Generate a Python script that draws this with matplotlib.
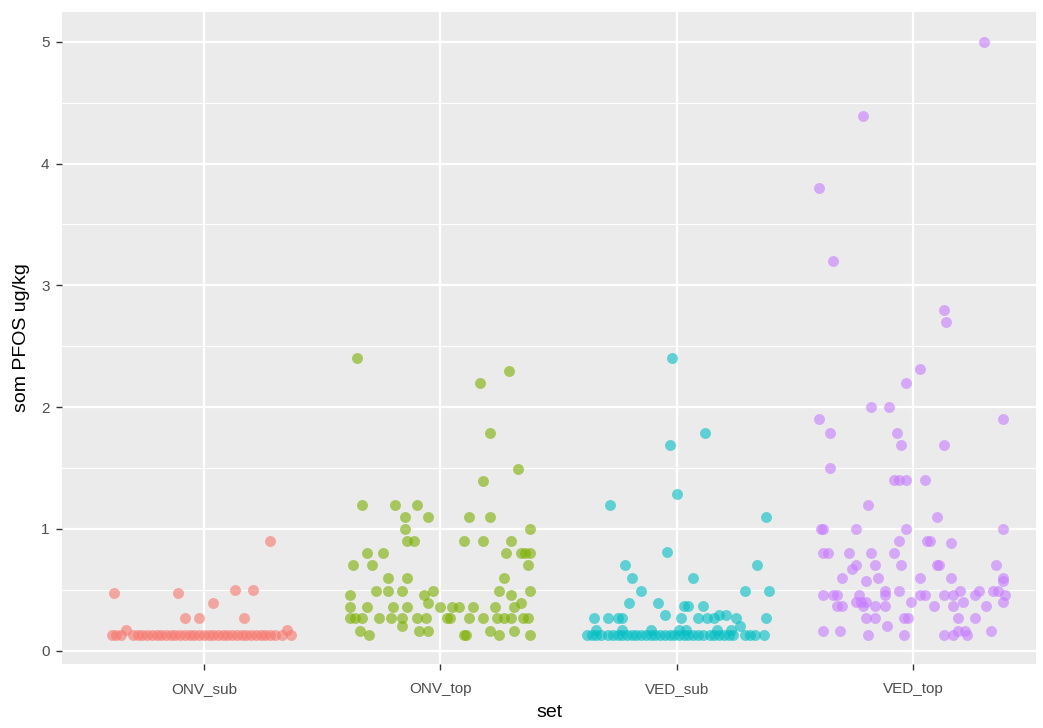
import numpy as np
import matplotlib
matplotlib.use("Agg")
from matplotlib import pyplot as plt

plt.rcParams['font.family'] = ['Liberation Sans', 'DejaVu Sans']

sets = ["ONV_sub", "ONV_top", "VED_sub", "VED_top"]
colors = ["#F8766D", "#7CAE00", "#00BFC4", "#C77CFF"]

# som PFOS per sample, with the horizontal jitter
onv_sub_val = [0.47, 0.47, 0.27, 0.27, 0.39, 0.50, 0.50, 0.27, 0.90, 0.17, 0.17,
               0.13, 0.13, 0.13, 0.13, 0.13, 0.13, 0.13, 0.13, 0.13, 0.13, 0.13, 0.13,
               0.13, 0.13, 0.13, 0.13, 0.13, 0.13, 0.13, 0.13, 0.13, 0.13, 0.13, 0.13,
               0.13, 0.13, 0.13, 0.13, 0.13, 0.13, 0.13, 0.13, 0.13, 0.13, 0.13, 0.13]
onv_sub_jit = [-0.38, -0.11, -0.08, -0.02, 0.04, 0.13, 0.21, 0.17, 0.28, -0.33, 0.35,
               -0.39, -0.37, -0.35, -0.30, -0.28, -0.26, -0.24, -0.22, -0.20, -0.18, -0.16,
               -0.14, -0.12, -0.10, -0.08, -0.06, -0.04, -0.02, 0.00, 0.02, 0.04, 0.06,
               0.08, 0.10, 0.12, 0.14, 0.16, 0.18, 0.20, 0.22, 0.24, 0.26, 0.28, 0.30,
               0.33, 0.37]

onv_top_val = [2.40, 2.30, 2.20, 1.79, 1.49, 1.39, 1.20, 1.20, 1.20, 1.10, 1.10, 1.10, 1.10,
               1.00, 1.00, 0.90, 0.90, 0.90, 0.90, 0.90, 0.80, 0.80, 0.80, 0.80, 0.80, 0.80,
               0.70, 0.70, 0.70, 0.60, 0.60, 0.60, 0.49, 0.49, 0.49, 0.49, 0.49, 0.49,
               0.46, 0.46, 0.46, 0.39, 0.39,
               0.36, 0.36, 0.36, 0.36, 0.36, 0.36, 0.36, 0.36, 0.36, 0.36,
               0.27, 0.27, 0.27, 0.27, 0.27, 0.27, 0.27, 0.27, 0.27, 0.27, 0.27, 0.27,
               0.27, 0.27, 0.27, 0.27, 0.27,
               0.20, 0.16, 0.16, 0.16, 0.16, 0.16, 0.13, 0.13, 0.13, 0.13, 0.13]
onv_top_jit = [-0.35, 0.29, 0.17, 0.21, 0.33, 0.18, -0.33, -0.19, -0.10, -0.15, -0.05, 0.12, 0.21,
               -0.15, 0.38, -0.14, -0.11, 0.10, 0.18, 0.30, -0.31, -0.24, 0.28, 0.34, 0.36, 0.38,
               -0.37, -0.29, 0.37, -0.22, -0.14, 0.27, -0.27, -0.22, -0.16, -0.03, 0.25, 0.38,
               -0.38, -0.07, 0.30, -0.05, 0.34,
               -0.38, -0.31, -0.20, -0.14, 0.00, 0.05, 0.08, 0.14, 0.23, 0.31,
               -0.38, -0.36, -0.33, -0.26, -0.21, -0.16, -0.10, -0.06, 0.03, 0.04, 0.12, 0.18,
               0.24, 0.27, 0.30, 0.35, 0.37,
               -0.16, -0.34, -0.09, -0.05, 0.21, 0.31, -0.30, 0.10, 0.11, 0.25, 0.38]

ved_sub_val = [2.40, 1.79, 1.69, 1.29, 1.20, 1.10, 0.81, 0.70, 0.70, 0.60, 0.60,
               0.49, 0.49, 0.49, 0.39, 0.39, 0.37, 0.37, 0.37, 0.29, 0.29, 0.29,
               0.27, 0.27, 0.27, 0.27, 0.27, 0.27, 0.27, 0.27, 0.27, 0.27, 0.20,
               0.17, 0.17, 0.17, 0.17, 0.17, 0.17, 0.17,
               0.13, 0.13, 0.13, 0.13, 0.13, 0.13, 0.13, 0.13, 0.13, 0.13, 0.13, 0.13,
               0.13, 0.13, 0.13, 0.13, 0.13, 0.13, 0.13, 0.13, 0.13, 0.13, 0.13, 0.13,
               0.13, 0.13, 0.13, 0.13, 0.13, 0.13, 0.13, 0.13, 0.13, 0.13, 0.13]
ved_sub_jit = [-0.02, 0.12, -0.03, 0.00, -0.28, 0.38, -0.04, -0.22, 0.34, -0.19, 0.07,
               -0.15, 0.29, 0.39, -0.20, -0.08, 0.03, 0.05, 0.11, -0.05, 0.18, 0.21,
               -0.35, -0.29, -0.25, -0.23, 0.02, 0.09, 0.13, 0.16, 0.25, 0.38, 0.27,
               -0.34, -0.23, -0.11, 0.01, 0.04, 0.17, 0.23,
               -0.38, -0.36, -0.34, -0.32, -0.29, -0.27, -0.25, -0.23, -0.21, -0.19, -0.17,
               -0.15, -0.13, -0.11, -0.09, -0.07, -0.05, -0.03, -0.01, 0.01, 0.03, 0.05,
               0.07, 0.09, 0.11, 0.14, 0.16, 0.18, 0.20, 0.22, 0.24, 0.29, 0.31, 0.33, 0.37]

ved_top_val = [5.00, 4.39, 3.80, 3.20, 2.80, 2.70, 2.31, 2.20, 2.00, 2.00, 1.90, 1.90,
               1.79, 1.79, 1.69, 1.69, 1.50, 1.40, 1.40, 1.40, 1.40, 1.20, 1.10,
               1.00, 1.00, 1.00, 1.00, 1.00, 0.90, 0.90, 0.90, 0.88,
               0.80, 0.80, 0.80, 0.80, 0.80, 0.70, 0.70, 0.70, 0.70, 0.70, 0.70, 0.67,
               0.60, 0.60, 0.60, 0.60, 0.60, 0.57, 0.57,
               0.49, 0.49, 0.49, 0.49, 0.49, 0.49,
               0.46, 0.46, 0.46, 0.46, 0.46, 0.46, 0.46, 0.46, 0.46, 0.46, 0.46,
               0.40, 0.40, 0.40, 0.40, 0.40, 0.40,
               0.37, 0.37, 0.37, 0.37, 0.37, 0.37, 0.37, 0.37,
               0.27, 0.27, 0.27, 0.27, 0.27, 0.27, 0.20,
               0.16, 0.16, 0.16, 0.16, 0.16, 0.13, 0.13, 0.13, 0.13, 0.13]
ved_top_jit = [0.30, -0.21, -0.40, -0.34, 0.13, 0.14, 0.03, -0.03, -0.18, -0.10, -0.40, 0.38,
               -0.35, -0.07, -0.05, 0.13, -0.35, -0.08, -0.06, -0.03, 0.05, -0.19, 0.10,
               -0.39, -0.38, -0.24, -0.03, 0.38, -0.06, 0.06, 0.07, 0.16,
               -0.38, -0.36, -0.27, -0.18, -0.08, -0.24, -0.16, -0.05, 0.10, 0.11, 0.35, -0.26,
               -0.30, -0.15, 0.03, 0.16, 0.38, -0.20, 0.38,
               -0.12, -0.06, 0.20, 0.28, 0.34, 0.36,
               -0.38, -0.34, -0.32, -0.23, -0.12, 0.03, 0.05, 0.13, 0.17, 0.26, 0.39,
               -0.24, -0.22, -0.20, -0.01, 0.21, 0.38,
               -0.32, -0.30, -0.21, -0.16, -0.12, 0.09, 0.17, 0.31,
               -0.20, -0.16, -0.04, -0.02, 0.19, 0.26, -0.11,
               -0.38, -0.31, 0.19, 0.22, 0.33, -0.19, -0.04, 0.13, 0.17, 0.23]

values = [onv_sub_val, onv_top_val, ved_sub_val, ved_top_val]
jitter = [onv_sub_jit, onv_top_jit, ved_sub_jit, ved_top_jit]

fig = plt.figure(figsize=(10.43, 7.28), dpi=100)
ax = fig.add_axes([0.0594, 0.0879, 0.9339, 0.8956])
ax.set_facecolor("#EBEBEB")

for i, (v, j) in enumerate(zip(values, jitter)):
    x = i + 1 + np.array(j)
    ax.scatter(x, v, s=62, color=colors[i], alpha=0.6, linewidths=0, zorder=3)

ax.set_xlim(0.40, 4.52)
ax.set_ylim(-0.11, 5.245)
ax.set_xticks(range(1, 5))
ax.set_xticklabels(sets)
ax.set_yticks(range(0, 6))
ax.set_yticks(np.arange(0.5, 5.5, 1.0), minor=True)

ax.grid(which="major", color="white", linewidth=1.6, zorder=1)
ax.grid(which="minor", axis="y", color="white", linewidth=0.8, zorder=1)
ax.set_axisbelow(True)
for s in ax.spines.values():
    s.set_visible(False)

ax.tick_params(which="major", length=4, width=1, color="#333333",
               labelcolor="#4D4D4D", labelsize=11, pad=5)
ax.tick_params(axis="x", which="major", pad=9)
ax.tick_params(which="minor", length=0)

ax.set_xlabel("set", fontsize=14, color="black", labelpad=6)
ax.set_ylabel("som PFOS ug/kg", fontsize=14, color="black", labelpad=8)

fig.savefig("out.png", dpi=100)
